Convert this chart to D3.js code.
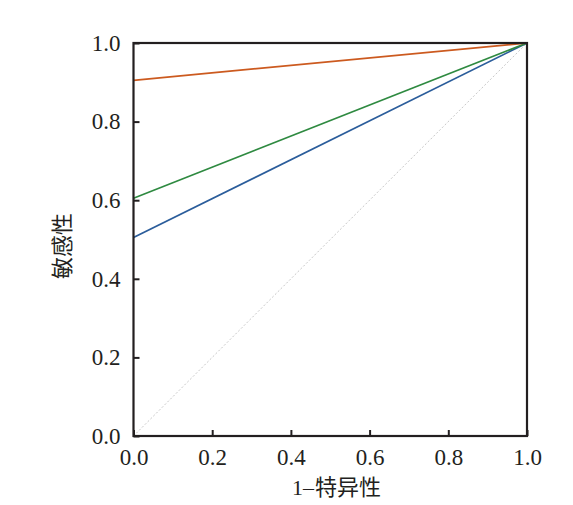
<!DOCTYPE html>
<html lang="zh">
<head>
  <meta charset="utf-8">
  <script src="https://d3js.org/d3.v7.min.js"></script>
  <style>
    body { margin: 0; background: #fff; }
    text { font-family: "Liberation Serif", "Times New Roman", serif; fill: #231f20; }
    .cjk { font-family: "Noto Sans CJK SC", sans-serif; }
  </style>
</head>
<body>
<script>
// ROC curves: each runs from (0, start) straight to (1, 1)
var fpr = [0, 1];
var orangeTpr = [0.905, 1];
var greenTpr = [0.605, 1];
var blueTpr = [0.505, 1];
var diagonal = [0, 1];
var tickValues = [0, 0.2, 0.4, 0.6, 0.8, 1.0];

var w = 573, h = 505;
var plotLeft = 133.5, plotRight = 527, plotTop = 43, plotBottom = 436;

var x = d3.scaleLinear().domain([0, 1]).range([plotLeft, plotRight]);
var y = d3.scaleLinear().domain([0, 1]).range([plotBottom, plotTop]);

var svg = d3.select("body").append("svg")
  .attr("width", w)
  .attr("height", h);

var line = d3.line()
  .x(function(d) { return x(d[0]); })
  .y(function(d) { return y(d[1]); });

function pts(ys) {
  return fpr.map(function(v, i) { return [v, ys[i]]; });
}

// reference diagonal
svg.append("path")
  .attr("d", line(pts(diagonal)))
  .attr("fill", "none")
  .attr("stroke", "#c8c8c8")
  .attr("stroke-width", 1)
  .attr("stroke-dasharray", "2,2");

var series = [
  { vals: blueTpr, color: "#2b5d9b" },
  { vals: greenTpr, color: "#2f8a41" },
  { vals: orangeTpr, color: "#cc5a1f" }
];

series.forEach(function(s) {
  svg.append("path")
    .attr("d", line(pts(s.vals)))
    .attr("fill", "none")
    .attr("stroke", s.color)
    .attr("stroke-width", 1.7);
});

// axes with inward ticks
var xAxis = svg.append("g")
  .attr("transform", "translate(0," + plotBottom + ")")
  .call(d3.axisBottom(x).tickValues(tickValues).tickSizeInner(-6).tickSizeOuter(0)
    .tickFormat(d3.format(".1f")).tickPadding(13));

var yAxis = svg.append("g")
  .attr("transform", "translate(" + plotLeft + ",0)")
  .call(d3.axisLeft(y).tickValues(tickValues).tickSizeInner(-6).tickSizeOuter(0)
    .tickFormat(d3.format(".1f")).tickPadding(13));

[xAxis, yAxis].forEach(function(a) {
  a.select(".domain").remove();
  a.selectAll(".tick line").attr("stroke", "#231f20").attr("stroke-width", 2);
  a.selectAll(".tick text")
    .style("font-family", "'Liberation Serif', serif")
    .style("font-size", "23px")
    .attr("fill", "#231f20");
});

// frame
svg.append("rect")
  .attr("x", plotLeft)
  .attr("y", plotTop)
  .attr("width", plotRight - plotLeft)
  .attr("height", plotBottom - plotTop)
  .attr("fill", "none")
  .attr("stroke", "#231f20")
  .attr("stroke-width", 2.2);

svg.append("text")
  .attr("x", 292)
  .attr("y", 495)
  .attr("text-anchor", "start")
  .style("font-size", "22px")
  .html('<tspan>1–</tspan><tspan class="cjk" dx="1">特异性</tspan>');

svg.append("text")
  .attr("class", "cjk")
  .attr("transform", "translate(70,246) rotate(-90)")
  .attr("text-anchor", "middle")
  .style("font-size", "22px")
  .text("敏感性");
</script>
</body>
</html>
